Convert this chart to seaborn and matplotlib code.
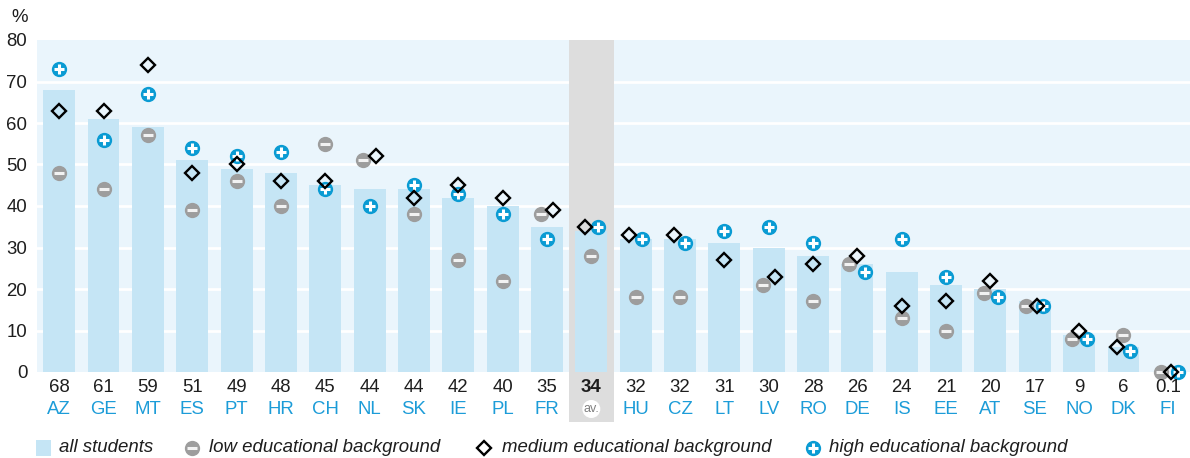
import numpy as np
import pandas as pd
import matplotlib
matplotlib.use("Agg")
import matplotlib.pyplot as plt
import matplotlib.transforms as mtransforms
from matplotlib.patches import Rectangle, Circle
from matplotlib import font_manager
import seaborn as sns

# ---- data -------------------------------------------------------------
countries = ["AZ", "GE", "MT", "ES", "PT", "HR", "CH", "NL", "SK", "IE", "PL", "FR",
             "av.", "HU", "CZ", "LT", "LV", "RO", "DE", "IS", "EE", "AT", "SE", "NO", "DK", "FI"]
all_students = [68, 61, 59, 51, 49, 48, 45, 44, 44, 42, 40, 35,
                34, 32, 32, 31, 30, 28, 26, 24, 21, 20, 17, 9, 6, 0.1]
low_bg = [48, 44, 57, 39, 46, 40, 55, 51, 38, 27, 22, 38,
          28, 18, 18, np.nan, 21, 17, 26, 13, 10, 19, 16, 8, 9, 0]
medium_bg = [63, 63, 74, 48, 50, 46, 46, 52, 42, 45, 42, 39,
             35, 33, 33, 27, 23, 26, 28, 16, 17, 22, 16, 10, 6, 0]
high_bg = [73, 56, 67, 54, 52, 53, 44, 40, 45, 43, 38, 32,
           35, 32, 31, 34, 35, 31, 24, 32, 23, 18, 16, 8, 5, 0]
bar_labels = ["68", "61", "59", "51", "49", "48", "45", "44", "44", "42", "40", "35",
              "34", "32", "32", "31", "30", "28", "26", "24", "21", "20", "17", "9", "6", "0.1"]
avg_label = "av."
legend_labels = ["all students", "low educational background",
                 "medium educational background", "high educational background"]

# horizontal nudges (category units) so overlapping markers stay readable
nudge_low = {"NL": -0.14, "FR": -0.14, "LV": -0.12, "DE": -0.18, "AT": -0.14,
             "SE": -0.2, "NO": -0.16, "FI": -0.16}
nudge_med = {"NL": 0.15, "FR": 0.14, "av.": -0.14, "HU": -0.14, "CZ": -0.14,
             "LV": 0.14, "SE": 0.05, "DK": -0.14, "FI": 0.07}
nudge_high = {"av.": 0.15, "HU": 0.14, "CZ": 0.12, "DE": 0.18, "AT": 0.16,
              "SE": 0.18, "NO": 0.18, "DK": 0.14, "FI": 0.22}

# ---- style ------------------------------------------------------------
W, H = 1190, 458
BG = "#EAF5FC"
BAR = "#C5E5F5"
HIGH = "#0A9BD3"
LOW = "#9D9D9D"
BAND = "#DDDDDD"
TXT_BLUE = "#1C9CD8"
TXT = "#1E1E1E"
FS = 13.4

sns.set_theme(style="white")

def pick_font(cands):
    for c in cands:
        try:
            font_manager.findfont(c, fallback_to_default=False)
            return c
        except Exception:
            continue
    return "DejaVu Sans"

FONT = pick_font(["Liberation Sans", "Roboto"])
plt.rcParams["font.family"] = [FONT, "DejaVu Sans"]

df = pd.DataFrame({"country": countries, "all": all_students})

fig = plt.figure(figsize=(W / 100, H / 100), dpi=100)
ax = fig.add_axes([37 / W, (H - 372) / H, (W - 37) / W, 332 / H])
ax.set_facecolor(BG)

n = len(countries)
xs = np.arange(n)

sns.barplot(data=df, x="country", y="all", order=countries, color=BAR,
            width=0.72, saturation=1, linewidth=0, edgecolor="none", ax=ax, zorder=2)

ax.set_xlim(-0.5, n - 0.5)
ax.set_ylim(0, 80)

# white grid
for v in range(10, 80, 10):
    ax.axhline(v, color="white", lw=2, zorder=0.5)

# grey band behind the average column, reaching down into the label area
avg_i = countries.index(avg_label)
blend = mtransforms.blended_transform_factory(ax.transData, ax.transAxes)
ax.add_patch(Rectangle((avg_i - 0.5, -0.15), 1.0, 1.15, transform=blend,
                       facecolor=BAND, edgecolor="none", zorder=1, clip_on=False))

def positions(nudge):
    return xs + np.array([nudge.get(c, 0.0) for c in countries])

x_low = positions(nudge_low)
x_med = positions(nudge_med)
x_high = positions(nudge_high)

# low background: grey disc with a white minus
ax.plot(x_low, low_bg, ls="none", marker="o", ms=11, mfc=LOW, mec="none", zorder=3, clip_on=False)
ax.plot(x_low, low_bg, ls="none", marker="_", ms=6.5, mew=2.2, color="#F2F2F2", zorder=3.1, clip_on=False)
# high background: blue disc with a white plus
ax.plot(x_high, high_bg, ls="none", marker="o", ms=11, mfc=HIGH, mec="none", zorder=4, clip_on=False)
ax.plot(x_high, high_bg, ls="none", marker="+", ms=6.5, mew=2.2, color="white", zorder=4.1, clip_on=False)
# medium background: open diamond
ax.plot(x_med, medium_bg, ls="none", marker="D", ms=7.2, mfc="none", mec="black", mew=1.7,
        zorder=5, clip_on=False)

# y axis
ax.set_yticks(range(0, 81, 10))
ax.set_yticklabels([str(v) for v in range(0, 81, 10)], fontsize=FS, color=TXT)
ax.tick_params(axis="y", length=0, pad=7)
ax.set_xticks([])
ax.set_xlabel("")
ax.set_ylabel("")
for s in ax.spines.values():
    s.set_visible(False)

# overlay in pixel coordinates for labels and legend
lax = fig.add_axes([0, 0, 1, 1], facecolor="none")
lax.set_xlim(0, W)
lax.set_ylim(H, 0)
lax.axis("off")

lax.text(20, 17, "%", ha="center", va="center", fontsize=FS, color=TXT)

def cat_px(i):
    return 37 + (i + 0.5) / n * (W - 37)

# category labels: value on top, country code below
for i, (c, lab) in enumerate(zip(countries, bar_labels)):
    cx = cat_px(i)
    if c == avg_label:
        lax.text(cx, 388, lab, ha="center", va="center", fontsize=FS,
                 fontweight="bold", color=TXT)
        lax.add_patch(Circle((cx, 409), 9, facecolor="white", edgecolor="none"))
        lax.text(cx, 409, c, ha="center", va="center", fontsize=9, color="#808080")
    else:
        lax.text(cx, 388, lab, ha="center", va="center", fontsize=FS, color=TXT)
        lax.text(cx, 409, c, ha="center", va="center", fontsize=FS, color=TXT_BLUE)

# legend along the bottom
ly = 448
lax.add_patch(Rectangle((36, ly - 8), 15, 16, facecolor=BAR, edgecolor="none"))
lax.plot([192], [ly], marker="o", ms=11, mfc=LOW, mec="none")
lax.plot([192], [ly], marker="_", ms=6.5, mew=2.2, color="#F2F2F2")
lax.plot([484], [ly], marker="D", ms=7.2, mfc="none", mec="black", mew=1.7)
lax.plot([813], [ly], marker="o", ms=11, mfc=HIGH, mec="none")
lax.plot([813], [ly], marker="+", ms=6.5, mew=2.2, color="white")
for x0, t in zip([59, 209, 502, 829], legend_labels):
    lax.text(x0, ly, t, ha="left", va="center", fontsize=FS, style="italic", color=TXT)

fig.savefig("out.png", dpi=100, facecolor="white")
